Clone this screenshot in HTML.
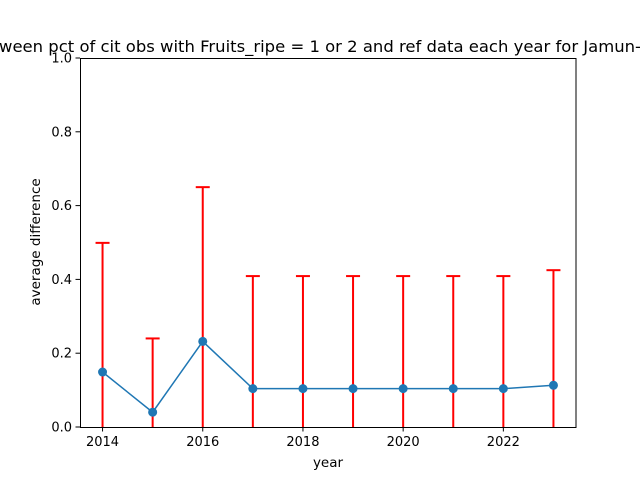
<!DOCTYPE html>
<html><head><meta charset="utf-8"><style>
body{margin:0;background:#fff;}
svg{display:block;font-family:"DejaVu Sans","Liberation Sans",sans-serif;}
</style></head><body>
<svg id="chart" width="640" height="480">
<rect x="0" y="0" width="640" height="480" fill="#fff"/>
<text x="-1" y="52" font-size="16" textLength="642" lengthAdjust="spacingAndGlyphs">ween pct of cit obs with Fruits_ripe = 1 or 2 and ref data each year for Jamun-</text>
<g id="marks"></g>
<rect x="80.5" y="58.5" width="495.5" height="369" fill="none" stroke="#000" stroke-width="1"/>
<g id="axes"></g>
<text x="328" y="467" font-size="13.5" text-anchor="middle">year</text>
<text transform="translate(40,242) rotate(-90)" font-size="13.5" text-anchor="middle">average difference</text>
</svg>
<script>
const years = [2014,2015,2016,2017,2018,2019,2020,2021,2022,2023];
const means = [0.149,0.040,0.232,0.104,0.104,0.104,0.104,0.104,0.104,0.113];
const errors = [0.350,0.200,0.418,0.305,0.305,0.305,0.305,0.305,0.305,0.312];
const xTicks = [2014,2016,2018,2020,2022];
const yTicks = [0.0,0.2,0.4,0.6,0.8,1.0];

const L=80,R=576,T=58,B=427;
const xMin=2013.55,xMax=2023.45,yMin=0,yMax=1;
const sx=v=>L+(v-xMin)/(xMax-xMin)*(R-L);
const sy=v=>B-(v-yMin)/(yMax-yMin)*(B-T);
const NS="http://www.w3.org/2000/svg";
const marks=document.getElementById('marks'), axes=document.getElementById('axes');
function mk(tag,attrs,parent){const e=document.createElementNS(NS,tag);for(const k in attrs)e.setAttribute(k,attrs[k]);parent.appendChild(e);return e;}
const clamp=v=>Math.max(T,Math.min(B,v));
years.forEach((yr,i)=>{
  const x=sx(yr), top=sy(means[i]+errors[i]), bot=clamp(sy(means[i]-errors[i]));
  const ln=mk('line',{x1:x,x2:x,y1:top,y2:bot,stroke:'#ff0000','stroke-width':2},marks);
  
  
  const cap=mk('line',{x1:x-7,x2:x+7,y1:top,y2:top,stroke:'#ff0000','stroke-width':2},marks);
  
  
});
const pl=mk('polyline',{points:years.map((y,i)=>sx(y)+','+sy(means[i])).join(' '),fill:'none',stroke:'#1f77b4','stroke-width':1.5},marks);


years.forEach((yr,i)=>{
  const c=mk('circle',{cx:sx(yr),cy:sy(means[i]),r:4.5,fill:'#1f77b4'},marks);
  
  
});
xTicks.forEach(v=>{
  const x=sx(v);
  const t=mk('line',{x1:x,x2:x,y1:B,y2:B+4.5,stroke:'#000'},axes);
  
  
  const l=mk('text',{x:x,y:B+19,'font-size':13,'text-anchor':'middle'},axes);
  l.textContent=v;
  
  
});
yTicks.forEach(v=>{
  const y=sy(v);
  const t=mk('line',{x1:L-4.5,x2:L,y1:y,y2:y,stroke:'#000'},axes);
  
  
  const l=mk('text',{x:L-8,y:y+4.5,'font-size':13,'text-anchor':'end'},axes);
  l.textContent=v.toFixed(1);
  
  
});
</script>
</body></html>
